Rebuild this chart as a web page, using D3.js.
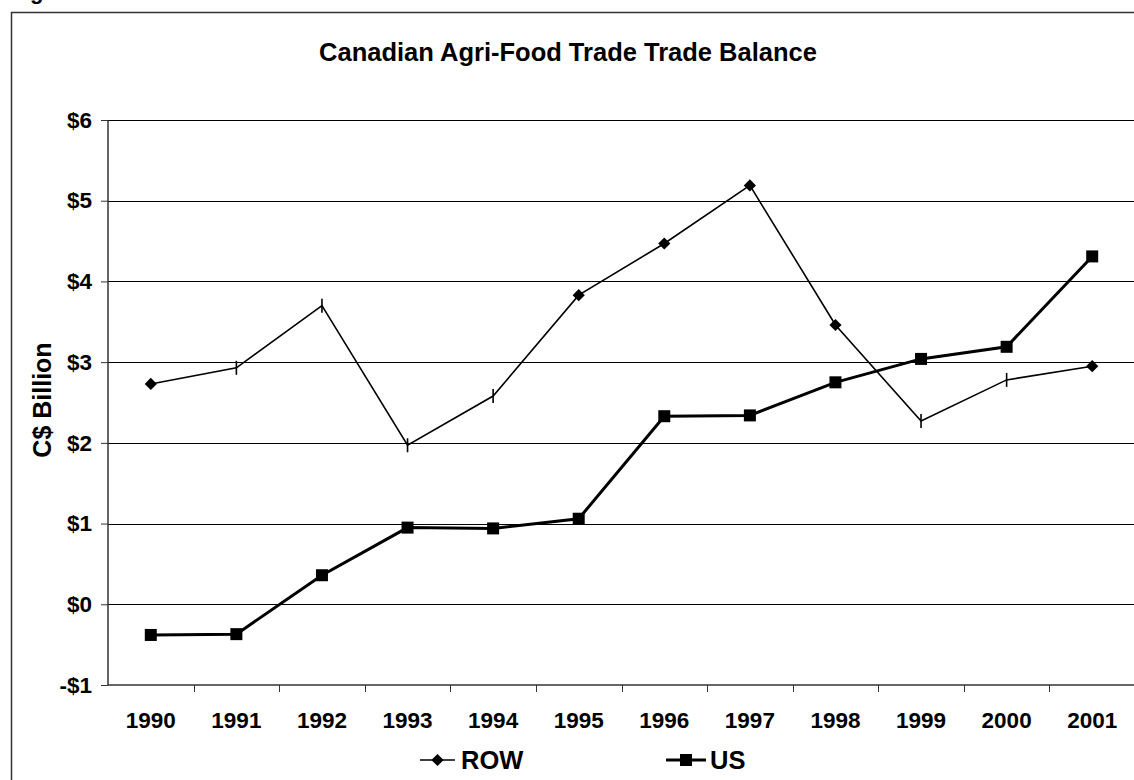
<!DOCTYPE html>
<html>
<head>
<meta charset="utf-8">
<script src="https://cdn.jsdelivr.net/npm/d3@7"></script>
<style>
  body { margin: 0; background: #fff; }
  svg { display: block; font-family: "Liberation Sans", Arial, sans-serif; font-weight: bold; }
</style>
</head>
<body>
<div id="chart"></div>
<script>
const years = ["1990","1991","1992","1993","1994","1995","1996","1997","1998","1999","2000","2001"];
const rowValues = [2.73, 2.93, 3.70, 1.97, 2.58, 3.83, 4.47, 5.19, 3.46, 2.27, 2.78, 2.95];
const usValues = [-0.38, -0.37, 0.36, 0.95, 0.94, 1.06, 2.33, 2.34, 2.75, 3.04, 3.19, 4.31];
// the source renders some ROW markers as a small vertical dash instead of a diamond
const rowMarkers = ["d","t","t","t","t","d","d","d","d","t","t","d"];
const yTicks = [-1, 0, 1, 2, 3, 4, 5, 6];

const width = 1134, height = 780;
const margin = { left: 108, right: -1, top: 120, bottom: 95 };

const svg = d3.select("#chart").append("svg")
  .attr("width", width).attr("height", height);

// outer frame
svg.append("rect")
  .attr("x", 11.5).attr("y", 12.5)
  .attr("width", width + 20).attr("height", height + 20)
  .attr("fill", "none").attr("stroke", "#333").attr("stroke-width", 1.5);

// cut-off caption above the frame
svg.append("text").attr("x", 30).attr("y", -1)
  .style("font-size", "22px").text("g");

svg.append("text")
  .attr("x", 568).attr("y", 61)
  .attr("text-anchor", "middle")
  .style("font-size", "25.5px")
  .text("Canadian Agri-Food Trade Trade Balance");

const x = d3.scaleBand().domain(years)
  .range([margin.left, width - margin.right]);
const y = d3.scaleLinear().domain([-1, 6])
  .range([height - margin.bottom, margin.top]);

// gridlines
svg.append("g").selectAll("line").data(yTicks.slice(1)).enter()
  .append("line")
  .attr("x1", margin.left).attr("x2", width)
  .attr("y1", d => Math.round(y(d)) + 0.5).attr("y2", d => Math.round(y(d)) + 0.5)
  .attr("stroke", "#000").attr("stroke-width", 1);

// y axis
const yAxis = svg.append("g")
  .attr("transform", `translate(${margin.left},0)`)
  .call(d3.axisLeft(y).tickValues(yTicks).tickSize(7).tickPadding(9)
    .tickFormat(d => (d < 0 ? "-$" : "$") + Math.abs(d)));
yAxis.selectAll("text").style("font-size", "22.5px").attr("fill", "#000");
yAxis.selectAll("line").attr("stroke", "#333");
yAxis.select(".domain").attr("stroke", "#333").attr("stroke-width", 1.5)
  .attr("d", `M0,${y(-1)}V${y(6)}`);

// x axis
const xAxis = svg.append("g")
  .attr("transform", `translate(0,${y(-1)})`)
  .call(d3.axisBottom(x).tickSize(0).tickPadding(27));
xAxis.selectAll("text").style("font-size", "22.5px").attr("fill", "#000");
xAxis.select(".domain").attr("stroke", "#333").attr("stroke-width", 1.5)
  .attr("d", `M${margin.left},0H${width}`);
xAxis.append("g").selectAll("line").data(years.slice(1)).enter()
  .append("line")
  .attr("x1", d => Math.round(x(d)) + 0.5).attr("x2", d => Math.round(x(d)) + 0.5)
  .attr("y1", 0).attr("y2", 7).attr("stroke", "#333");

// y label
svg.append("text")
  .attr("transform", "translate(51,400) rotate(-90)")
  .attr("text-anchor", "middle")
  .style("font-size", "25px")
  .text("C$ Billion");

const cx = d => x(d) + x.bandwidth() / 2;
const line = d3.line().x(d => cx(d[0])).y(d => y(d[1]));

svg.append("path")
  .datum(years.map((yr, i) => [yr, rowValues[i]]))
  .attr("d", line).attr("fill", "none")
  .attr("stroke", "#000").attr("stroke-width", 1.6);

svg.append("path")
  .datum(years.map((yr, i) => [yr, usValues[i]]))
  .attr("d", line).attr("fill", "none")
  .attr("stroke", "#000").attr("stroke-width", 3);

const diamond = d3.symbol().type(d3.symbolDiamond2).size(95);

svg.append("g").selectAll("path").data(years).enter()
  .append("path")
  .attr("transform", (d, i) => `translate(${cx(d)},${y(rowValues[i])})`)
  .attr("d", (d, i) => rowMarkers[i] === "d" ? diamond() : "M0,-7V7")
  .attr("fill", "#000").attr("stroke", "#000")
  .attr("stroke-width", (d, i) => rowMarkers[i] === "d" ? 0 : 1.6);

svg.append("g").selectAll("rect").data(years).enter()
  .append("rect")
  .attr("x", d => cx(d) - 6).attr("y", (d, i) => y(usValues[i]) - 6)
  .attr("width", 12).attr("height", 12).attr("fill", "#000");

// legend
const legend = svg.append("g").attr("transform", "translate(0,769)");
legend.append("line").attr("x1", 420).attr("x2", 455).attr("y1", -9).attr("y2", -9)
  .attr("stroke", "#000").attr("stroke-width", 1.6);
legend.append("path").attr("transform", "translate(437.5,-9)").attr("d", diamond());
legend.append("text").attr("x", 461).attr("y", 0).style("font-size", "25.5px").text("ROW");

legend.append("line").attr("x1", 666).attr("x2", 706).attr("y1", -9).attr("y2", -9)
  .attr("stroke", "#000").attr("stroke-width", 3);
legend.append("rect").attr("x", 680).attr("y", -15).attr("width", 12).attr("height", 12);
legend.append("text").attr("x", 710).attr("y", 0).style("font-size", "25.5px").text("US");
</script>
</body>
</html>
